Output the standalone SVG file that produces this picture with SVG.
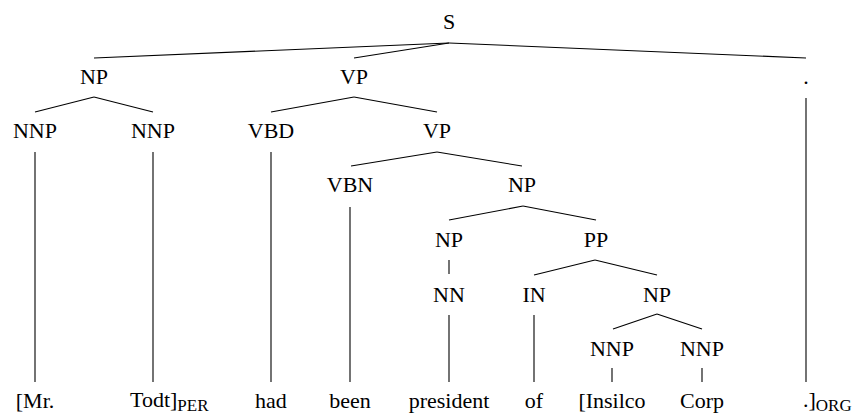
<svg xmlns="http://www.w3.org/2000/svg" width="856" height="415" viewBox="0 0 856 415">
<style>
text{font-size:22px;fill:#000;text-anchor:middle}
.sub{font-size:17px}
line{stroke:#000;stroke-width:1.1;fill:none}
</style>
<rect width="856" height="415" fill="#fff"/>
<g id="connectors">
<line x1="449" y1="43" x2="94" y2="58"/>
<line x1="449" y1="43" x2="354" y2="58"/>
<line x1="449" y1="43" x2="806" y2="58"/>
<line x1="94" y1="97" x2="35" y2="112"/>
<line x1="94" y1="97" x2="153" y2="112"/>
<line x1="354" y1="97" x2="271" y2="112"/>
<line x1="354" y1="97" x2="437" y2="112"/>
<line x1="806" y1="98" x2="806" y2="382"/>
<line x1="35" y1="152" x2="35" y2="382"/>
<line x1="153" y1="152" x2="153" y2="382"/>
<line x1="271" y1="152" x2="271" y2="382"/>
<line x1="437" y1="152" x2="351" y2="166"/>
<line x1="437" y1="152" x2="522" y2="166"/>
<line x1="350" y1="207" x2="350" y2="382"/>
<line x1="523" y1="206" x2="449" y2="220"/>
<line x1="523" y1="206" x2="596" y2="220"/>
<line x1="449" y1="260" x2="449" y2="274"/>
<line x1="595" y1="260" x2="534" y2="275"/>
<line x1="595" y1="260" x2="657" y2="275"/>
<line x1="449" y1="315" x2="449" y2="382"/>
<line x1="534" y1="315" x2="534" y2="382"/>
<line x1="657" y1="314" x2="613" y2="329"/>
<line x1="657" y1="314" x2="702" y2="329"/>
<line x1="612" y1="368" x2="612" y2="382"/>
<line x1="702" y1="368" x2="702" y2="382"/>
</g>
<g font-family="'Liberation Serif', 'DejaVu Serif', serif">
<g id="n-S"><text x="449" y="29">S</text></g>
<g id="n-NP1"><text x="94" y="84">NP</text></g>
<g id="n-VP1"><text x="354" y="84">VP</text></g>
<g id="n-dot"><text x="806" y="84">.</text></g>
<g id="n-NNP1"><text x="35" y="138">NNP</text></g>
<g id="n-NNP2"><text x="153" y="138">NNP</text></g>
<g id="n-VBD"><text x="271" y="138">VBD</text></g>
<g id="n-VP2"><text x="437" y="138">VP</text></g>
<g id="n-VBN"><text x="350" y="192">VBN</text></g>
<g id="n-NP2"><text x="522" y="192">NP</text></g>
<g id="n-NP3"><text x="449" y="247">NP</text></g>
<g id="n-PP"><text x="596" y="247">PP</text></g>
<g id="n-NN"><text x="449" y="302">NN</text></g>
<g id="n-IN"><text x="534" y="302">IN</text></g>
<g id="n-NP4"><text x="657" y="302">NP</text></g>
<g id="n-NNP3"><text x="612" y="356">NNP</text></g>
<g id="n-NNP4"><text x="702" y="356">NNP</text></g>
<g id="leaf-Mr"><text x="35" y="408">[Mr.</text></g>
<g id="leaf-Todt"><text x="130" y="407" style="text-anchor:start">Todt]<tspan class="sub" dy="4">PER</tspan></text></g>
<g id="leaf-had"><text x="271" y="408">had</text></g>
<g id="leaf-been"><text x="350" y="408">been</text></g>
<g id="leaf-president"><text x="449" y="408">president</text></g>
<g id="leaf-of"><text x="534" y="408">of</text></g>
<g id="leaf-Insilco"><text x="612" y="408">[Insilco</text></g>
<g id="leaf-Corp"><text x="702" y="408">Corp</text></g>
<g id="leaf-dot"><text x="803" y="407" style="text-anchor:start">.]<tspan class="sub" dy="4">ORG</tspan></text></g>
</g>
</svg>
